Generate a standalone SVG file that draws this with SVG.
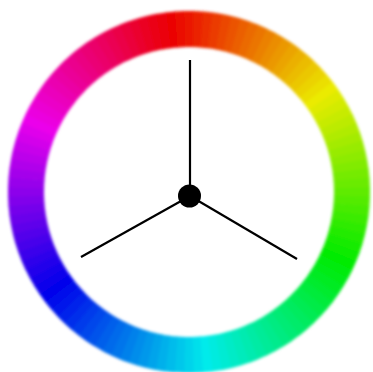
<svg xmlns="http://www.w3.org/2000/svg" xmlns:xlink="http://www.w3.org/1999/xlink" width="373" height="372" viewBox="0 0 373 372">
<defs>
<style>
.spoke{stroke:#000;stroke-width:2.2;stroke-linecap:butt;fill:none}
</style>
<filter id="soft" x="-20%" y="-20%" width="140%" height="140%"><feGaussianBlur stdDeviation="1.4"/></filter>
<circle id="seg" cx="0" cy="0" r="163" fill="none" stroke-width="36" stroke-dasharray="9.4 1100"/>
</defs>
<rect width="373" height="372" fill="#fff"/>
<g id="wheel" transform="translate(189 192)" filter="url(#soft)">
<use xlink:href="#seg" transform="rotate(-97.5)" stroke="hsl(0,100%,46%)"/>
<use xlink:href="#seg" transform="rotate(-94.5)" stroke="hsl(3,100%,46%)"/>
<use xlink:href="#seg" transform="rotate(-91.5)" stroke="hsl(6,100%,46%)"/>
<use xlink:href="#seg" transform="rotate(-88.5)" stroke="hsl(9,100%,46%)"/>
<use xlink:href="#seg" transform="rotate(-85.5)" stroke="hsl(12,100%,46%)"/>
<use xlink:href="#seg" transform="rotate(-82.5)" stroke="hsl(15,100%,46%)"/>
<use xlink:href="#seg" transform="rotate(-79.5)" stroke="hsl(18,100%,46%)"/>
<use xlink:href="#seg" transform="rotate(-76.5)" stroke="hsl(21,100%,46%)"/>
<use xlink:href="#seg" transform="rotate(-73.5)" stroke="hsl(24,100%,46%)"/>
<use xlink:href="#seg" transform="rotate(-70.5)" stroke="hsl(27,100%,46%)"/>
<use xlink:href="#seg" transform="rotate(-67.5)" stroke="hsl(30,100%,46%)"/>
<use xlink:href="#seg" transform="rotate(-64.5)" stroke="hsl(33,100%,46%)"/>
<use xlink:href="#seg" transform="rotate(-61.5)" stroke="hsl(36,100%,46%)"/>
<use xlink:href="#seg" transform="rotate(-58.5)" stroke="hsl(39,100%,46%)"/>
<use xlink:href="#seg" transform="rotate(-55.5)" stroke="hsl(42,100%,46%)"/>
<use xlink:href="#seg" transform="rotate(-52.5)" stroke="hsl(45,100%,46%)"/>
<use xlink:href="#seg" transform="rotate(-49.5)" stroke="hsl(48,100%,46%)"/>
<use xlink:href="#seg" transform="rotate(-46.5)" stroke="hsl(51,100%,46%)"/>
<use xlink:href="#seg" transform="rotate(-43.5)" stroke="hsl(54,100%,46%)"/>
<use xlink:href="#seg" transform="rotate(-40.5)" stroke="hsl(57,100%,46%)"/>
<use xlink:href="#seg" transform="rotate(-37.5)" stroke="hsl(60,100%,46%)"/>
<use xlink:href="#seg" transform="rotate(-34.5)" stroke="hsl(63,100%,46%)"/>
<use xlink:href="#seg" transform="rotate(-31.5)" stroke="hsl(66,100%,46%)"/>
<use xlink:href="#seg" transform="rotate(-28.5)" stroke="hsl(69,100%,46%)"/>
<use xlink:href="#seg" transform="rotate(-25.5)" stroke="hsl(72,100%,46%)"/>
<use xlink:href="#seg" transform="rotate(-22.5)" stroke="hsl(75,100%,46%)"/>
<use xlink:href="#seg" transform="rotate(-19.5)" stroke="hsl(78,100%,46%)"/>
<use xlink:href="#seg" transform="rotate(-16.5)" stroke="hsl(81,100%,46%)"/>
<use xlink:href="#seg" transform="rotate(-13.5)" stroke="hsl(84,100%,46%)"/>
<use xlink:href="#seg" transform="rotate(-10.5)" stroke="hsl(87,100%,46%)"/>
<use xlink:href="#seg" transform="rotate(-7.5)" stroke="hsl(90,100%,46%)"/>
<use xlink:href="#seg" transform="rotate(-4.5)" stroke="hsl(93,100%,46%)"/>
<use xlink:href="#seg" transform="rotate(-1.5)" stroke="hsl(96,100%,46%)"/>
<use xlink:href="#seg" transform="rotate(1.5)" stroke="hsl(99,100%,46%)"/>
<use xlink:href="#seg" transform="rotate(4.5)" stroke="hsl(102,100%,46%)"/>
<use xlink:href="#seg" transform="rotate(7.5)" stroke="hsl(105,100%,46%)"/>
<use xlink:href="#seg" transform="rotate(10.5)" stroke="hsl(108,100%,46%)"/>
<use xlink:href="#seg" transform="rotate(13.5)" stroke="hsl(111,100%,46%)"/>
<use xlink:href="#seg" transform="rotate(16.5)" stroke="hsl(114,100%,46%)"/>
<use xlink:href="#seg" transform="rotate(19.5)" stroke="hsl(117,100%,46%)"/>
<use xlink:href="#seg" transform="rotate(22.5)" stroke="hsl(120,100%,46%)"/>
<use xlink:href="#seg" transform="rotate(25.5)" stroke="hsl(123,100%,46%)"/>
<use xlink:href="#seg" transform="rotate(28.5)" stroke="hsl(126,100%,46%)"/>
<use xlink:href="#seg" transform="rotate(31.5)" stroke="hsl(129,100%,46%)"/>
<use xlink:href="#seg" transform="rotate(34.5)" stroke="hsl(132,100%,46%)"/>
<use xlink:href="#seg" transform="rotate(37.5)" stroke="hsl(135,100%,46%)"/>
<use xlink:href="#seg" transform="rotate(40.5)" stroke="hsl(138,100%,46%)"/>
<use xlink:href="#seg" transform="rotate(43.5)" stroke="hsl(141,100%,46%)"/>
<use xlink:href="#seg" transform="rotate(46.5)" stroke="hsl(144,100%,46%)"/>
<use xlink:href="#seg" transform="rotate(49.5)" stroke="hsl(147,100%,46%)"/>
<use xlink:href="#seg" transform="rotate(52.5)" stroke="hsl(150,100%,46%)"/>
<use xlink:href="#seg" transform="rotate(55.5)" stroke="hsl(153,100%,46%)"/>
<use xlink:href="#seg" transform="rotate(58.5)" stroke="hsl(156,100%,46%)"/>
<use xlink:href="#seg" transform="rotate(61.5)" stroke="hsl(159,100%,46%)"/>
<use xlink:href="#seg" transform="rotate(64.5)" stroke="hsl(162,100%,46%)"/>
<use xlink:href="#seg" transform="rotate(67.5)" stroke="hsl(165,100%,46%)"/>
<use xlink:href="#seg" transform="rotate(70.5)" stroke="hsl(168,100%,46%)"/>
<use xlink:href="#seg" transform="rotate(73.5)" stroke="hsl(171,100%,46%)"/>
<use xlink:href="#seg" transform="rotate(76.5)" stroke="hsl(174,100%,46%)"/>
<use xlink:href="#seg" transform="rotate(79.5)" stroke="hsl(177,100%,46%)"/>
<use xlink:href="#seg" transform="rotate(82.5)" stroke="hsl(180,100%,46%)"/>
<use xlink:href="#seg" transform="rotate(85.5)" stroke="hsl(183,100%,46%)"/>
<use xlink:href="#seg" transform="rotate(88.5)" stroke="hsl(186,100%,46%)"/>
<use xlink:href="#seg" transform="rotate(91.5)" stroke="hsl(189,100%,46%)"/>
<use xlink:href="#seg" transform="rotate(94.5)" stroke="hsl(192,100%,46%)"/>
<use xlink:href="#seg" transform="rotate(97.5)" stroke="hsl(195,100%,46%)"/>
<use xlink:href="#seg" transform="rotate(100.5)" stroke="hsl(198,100%,46%)"/>
<use xlink:href="#seg" transform="rotate(103.5)" stroke="hsl(201,100%,46%)"/>
<use xlink:href="#seg" transform="rotate(106.5)" stroke="hsl(204,100%,46%)"/>
<use xlink:href="#seg" transform="rotate(109.5)" stroke="hsl(207,100%,46%)"/>
<use xlink:href="#seg" transform="rotate(112.5)" stroke="hsl(210,100%,46%)"/>
<use xlink:href="#seg" transform="rotate(115.5)" stroke="hsl(213,100%,46%)"/>
<use xlink:href="#seg" transform="rotate(118.5)" stroke="hsl(216,100%,46%)"/>
<use xlink:href="#seg" transform="rotate(121.5)" stroke="hsl(219,100%,46%)"/>
<use xlink:href="#seg" transform="rotate(124.5)" stroke="hsl(222,100%,46%)"/>
<use xlink:href="#seg" transform="rotate(127.5)" stroke="hsl(225,100%,46%)"/>
<use xlink:href="#seg" transform="rotate(130.5)" stroke="hsl(228,100%,46%)"/>
<use xlink:href="#seg" transform="rotate(133.5)" stroke="hsl(231,100%,46%)"/>
<use xlink:href="#seg" transform="rotate(136.5)" stroke="hsl(234,100%,46%)"/>
<use xlink:href="#seg" transform="rotate(139.5)" stroke="hsl(237,100%,46%)"/>
<use xlink:href="#seg" transform="rotate(142.5)" stroke="hsl(240,100%,46%)"/>
<use xlink:href="#seg" transform="rotate(145.5)" stroke="hsl(243,100%,46%)"/>
<use xlink:href="#seg" transform="rotate(148.5)" stroke="hsl(246,100%,46%)"/>
<use xlink:href="#seg" transform="rotate(151.5)" stroke="hsl(249,100%,46%)"/>
<use xlink:href="#seg" transform="rotate(154.5)" stroke="hsl(252,100%,46%)"/>
<use xlink:href="#seg" transform="rotate(157.5)" stroke="hsl(255,100%,46%)"/>
<use xlink:href="#seg" transform="rotate(160.5)" stroke="hsl(258,100%,46%)"/>
<use xlink:href="#seg" transform="rotate(163.5)" stroke="hsl(261,100%,46%)"/>
<use xlink:href="#seg" transform="rotate(166.5)" stroke="hsl(264,100%,46%)"/>
<use xlink:href="#seg" transform="rotate(169.5)" stroke="hsl(267,100%,46%)"/>
<use xlink:href="#seg" transform="rotate(172.5)" stroke="hsl(270,100%,46%)"/>
<use xlink:href="#seg" transform="rotate(175.5)" stroke="hsl(273,100%,46%)"/>
<use xlink:href="#seg" transform="rotate(178.5)" stroke="hsl(276,100%,46%)"/>
<use xlink:href="#seg" transform="rotate(181.5)" stroke="hsl(279,100%,46%)"/>
<use xlink:href="#seg" transform="rotate(184.5)" stroke="hsl(282,100%,46%)"/>
<use xlink:href="#seg" transform="rotate(187.5)" stroke="hsl(285,100%,46%)"/>
<use xlink:href="#seg" transform="rotate(190.5)" stroke="hsl(288,100%,46%)"/>
<use xlink:href="#seg" transform="rotate(193.5)" stroke="hsl(291,100%,46%)"/>
<use xlink:href="#seg" transform="rotate(196.5)" stroke="hsl(294,100%,46%)"/>
<use xlink:href="#seg" transform="rotate(199.5)" stroke="hsl(297,100%,46%)"/>
<use xlink:href="#seg" transform="rotate(202.5)" stroke="hsl(300,100%,46%)"/>
<use xlink:href="#seg" transform="rotate(205.5)" stroke="hsl(303,100%,46%)"/>
<use xlink:href="#seg" transform="rotate(208.5)" stroke="hsl(306,100%,46%)"/>
<use xlink:href="#seg" transform="rotate(211.5)" stroke="hsl(309,100%,46%)"/>
<use xlink:href="#seg" transform="rotate(214.5)" stroke="hsl(312,100%,46%)"/>
<use xlink:href="#seg" transform="rotate(217.5)" stroke="hsl(315,100%,46%)"/>
<use xlink:href="#seg" transform="rotate(220.5)" stroke="hsl(318,100%,46%)"/>
<use xlink:href="#seg" transform="rotate(223.5)" stroke="hsl(321,100%,46%)"/>
<use xlink:href="#seg" transform="rotate(226.5)" stroke="hsl(324,100%,46%)"/>
<use xlink:href="#seg" transform="rotate(229.5)" stroke="hsl(327,100%,46%)"/>
<use xlink:href="#seg" transform="rotate(232.5)" stroke="hsl(330,100%,46%)"/>
<use xlink:href="#seg" transform="rotate(235.5)" stroke="hsl(333,100%,46%)"/>
<use xlink:href="#seg" transform="rotate(238.5)" stroke="hsl(336,100%,46%)"/>
<use xlink:href="#seg" transform="rotate(241.5)" stroke="hsl(339,100%,46%)"/>
<use xlink:href="#seg" transform="rotate(244.5)" stroke="hsl(342,100%,46%)"/>
<use xlink:href="#seg" transform="rotate(247.5)" stroke="hsl(345,100%,46%)"/>
<use xlink:href="#seg" transform="rotate(250.5)" stroke="hsl(348,100%,46%)"/>
<use xlink:href="#seg" transform="rotate(253.5)" stroke="hsl(351,100%,46%)"/>
<use xlink:href="#seg" transform="rotate(256.5)" stroke="hsl(354,100%,46%)"/>
<use xlink:href="#seg" transform="rotate(259.5)" stroke="hsl(357,100%,46%)"/>
</g>
<g id="spokes">
<line class="spoke" x1="190" y1="196" x2="190" y2="60"/>
<line class="spoke" x1="190" y1="196" x2="81" y2="257"/>
<line class="spoke" x1="190" y1="196" x2="297" y2="259"/>
</g>
<g id="hub">
<circle cx="189.5" cy="196" r="11.5" fill="#000"/>
</g>
</svg>
